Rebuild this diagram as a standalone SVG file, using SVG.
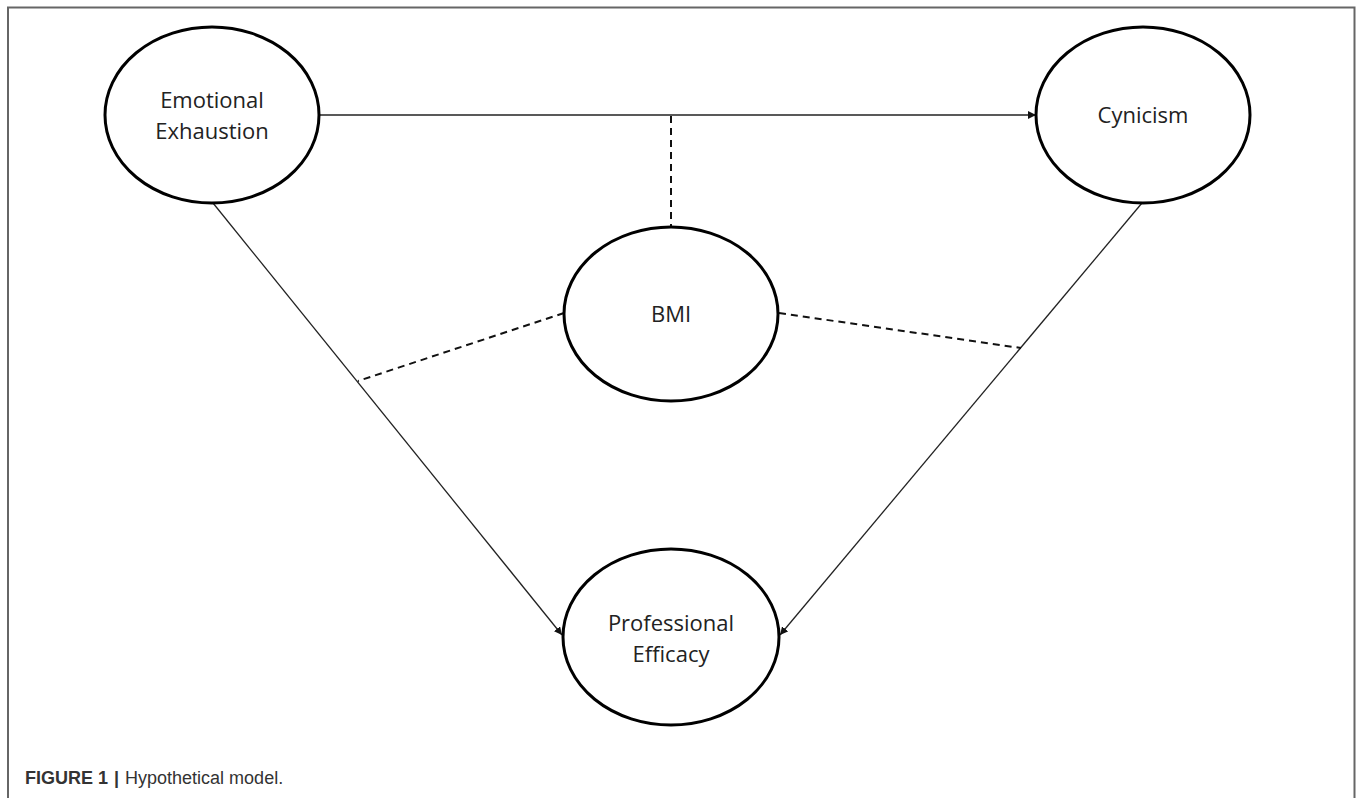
<svg xmlns="http://www.w3.org/2000/svg" width="1358" height="798" viewBox="0 0 1358 798">
<style>
.node{fill:#fff;stroke:#000;stroke-width:3}
.lbl{font-family:"Open Sans","Noto Sans",sans-serif;font-size:22px;fill:#222;text-anchor:middle}
.solid{stroke:#222;stroke-width:1.3;fill:none}
.dash{stroke:#111;stroke-width:2;stroke-dasharray:7 5;fill:none}
.cap{font-family:"Liberation Sans",Arial,sans-serif;font-size:18px;fill:#333}
</style>
<defs>
<marker id="arr" viewBox="0 0 10 10" refX="10" refY="5" markerWidth="8" markerHeight="8" markerUnits="userSpaceOnUse" orient="auto">
<path d="M0,0 L10,5 L0,10 z" fill="#111"/>
</marker>
</defs>
<rect x="0" y="0" width="1358" height="798" fill="#fff"/>
<path d="M8,798 V7.5 H1354.5 V798" fill="none" stroke="#666" stroke-width="2"/>
<g id="connectors">
<line class="solid" x1="320" y1="115" x2="1036" y2="115" marker-end="url(#arr)"/>
<line class="solid" x1="213" y1="203" x2="562" y2="635" marker-end="url(#arr)"/>
<line class="solid" x1="1142" y1="203" x2="780" y2="635" marker-end="url(#arr)"/>
<line class="dash" x1="671" y1="116" x2="671" y2="227"/>
<line class="dash" x1="564" y1="313" x2="358" y2="381"/>
<line class="dash" x1="779" y1="313" x2="1021" y2="348"/>
</g>
<g id="emotional-exhaustion">
<ellipse class="node" cx="212" cy="115" rx="107" ry="88"/>
<text class="lbl" x="212" y="108">Emotional</text>
<text class="lbl" x="212" y="139">Exhaustion</text>
</g>
<g id="cynicism">
<ellipse class="node" cx="1143" cy="115" rx="107" ry="88"/>
<text class="lbl" x="1143" y="123">Cynicism</text>
</g>
<g id="bmi">
<ellipse class="node" cx="671" cy="314" rx="107" ry="87"/>
<text class="lbl" x="671" y="322">BMI</text>
</g>
<g id="professional-efficacy">
<ellipse class="node" cx="671" cy="637" rx="108" ry="88"/>
<text class="lbl" x="671" y="631">Professional</text>
<text class="lbl" x="671" y="662">Efficacy</text>
</g>
<text class="cap" x="25" y="784"><tspan font-weight="bold">FIGURE 1</tspan><tspan font-weight="bold" dx="6">|</tspan><tspan dx="6">Hypothetical model.</tspan></text>
</svg>
